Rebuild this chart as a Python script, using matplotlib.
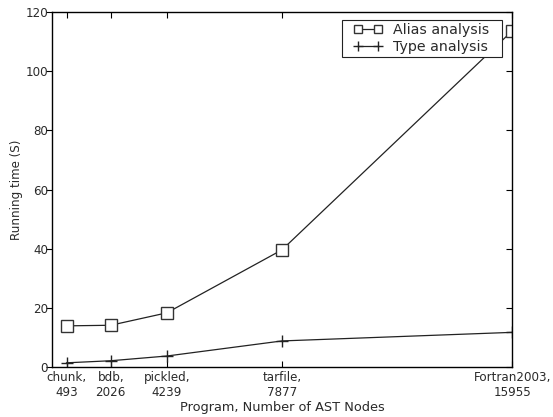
import matplotlib
matplotlib.use("Agg")
import matplotlib.pyplot as plt
from matplotlib.legend_handler import HandlerLine2D
from matplotlib.lines import TICKLEFT

programs = ["chunk,\n493", "bdb,\n2026", "pickled,\n4239", "tarfile,\n7877", "Fortran2003,\n15955"]
x_nodes = [493, 2026, 3975, 7970, 15955]
alias_time = [13.9, 14.1, 18.3, 39.6, 113.6]
type_time = [1.4, 2.1, 3.7, 8.8, 11.7]
series_names = ["Alias analysis", "Type analysis"]
y_ticks = [0, 20, 40, 60, 80, 100, 120]

txt = "#2a2a2a"
fig = plt.figure(figsize=(5.53, 4.17), dpi=100)
ax = fig.add_axes([0.0946, 0.12, 0.8314, 0.851])

l1, = ax.plot(x_nodes, alias_time, color="#222222", linewidth=0.9, marker="s", markersize=8.5,
              markerfacecolor="white", markeredgecolor="#333333", markeredgewidth=1.0,
              label=series_names[0] + "  ")
l2, = ax.plot(x_nodes, type_time, color="#222222", linewidth=0.9, marker="+", markersize=9,
              markeredgewidth=1.0, label=series_names[1] + "  ")

ax.set_xlim(0, 15955)
ax.set_ylim(0, 120)
ax.set_xticks(x_nodes)
ax.set_xticklabels(programs, fontsize=8.6, color=txt)
ax.set_yticks(y_ticks)
ax.tick_params(axis="x", direction="in", top=True, length=4, labelsize=8.6,
               labelcolor=txt, pad=3)
ax.tick_params(axis="y", direction="out", right=True, length=4, labelsize=8.6,
               labelcolor=txt, pad=-1)
for tk in ax.yaxis.get_major_ticks():
    tk.tick2line.set_marker(TICKLEFT)
ax.set_xlabel("Program, Number of AST Nodes", fontsize=9.3, labelpad=1, color=txt)
ax.set_ylabel("Running time (S)", fontsize=8.6, color=txt, labelpad=2)
for s in ax.spines.values():
    s.set_linewidth(1.0)

hm = {l1: HandlerLine2D(marker_pad=0.9), l2: HandlerLine2D(marker_pad=0.9)}
leg = ax.legend(loc="upper right", numpoints=2, fontsize=10.2, fancybox=False, framealpha=1,
                edgecolor="#222222", borderpad=0.25, handlelength=3.2, handletextpad=0.15,
                labelspacing=0.2, borderaxespad=0, markerscale=0.75,
                bbox_to_anchor=(0.978, 0.979), handler_map=hm)
leg.get_frame().set_linewidth(0.8)
for t in leg.get_texts():
    t.set_color(txt)

fig.savefig("out.png", dpi=100)
